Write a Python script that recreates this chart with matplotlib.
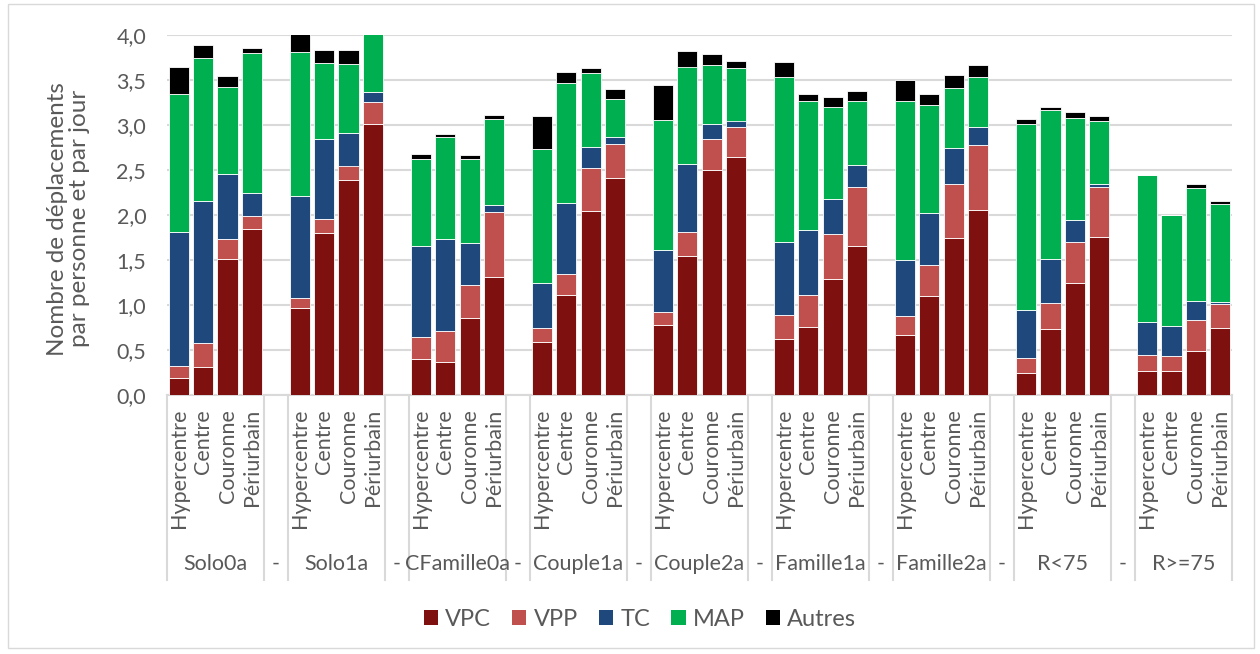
import matplotlib
matplotlib.use("Agg")
import matplotlib.pyplot as plt
from matplotlib.patches import Patch, Rectangle
from matplotlib.ticker import FuncFormatter
import numpy as np

plt.rcParams['font.family'] = ['Lato', 'DejaVu Sans']

groups = ["Solo0a", "Solo1a", "CFamille0a", "Couple1a", "Couple2a",
          "Famille1a", "Famille2a", "R<75", "R>=75"]
zones = ["Hypercentre", "Centre", "Couronne", "Périurbain"]
series_names = ["VPC", "VPP", "TC", "MAP", "Autres"]
colors = ["#7F1010", "#C0504D", "#1F497D", "#00B050", "#000000"]

# values per group, per zone (Hypercentre, Centre, Couronne, Périurbain)
VPC = [[0.19, 0.31, 1.51, 1.84], [0.97, 1.80, 2.39, 3.01], [0.40, 0.37, 0.86, 1.31],
       [0.59, 1.11, 2.04, 2.41], [0.78, 1.54, 2.50, 2.65], [0.62, 0.76, 1.29, 1.66],
       [0.67, 1.10, 1.74, 2.06], [0.24, 0.73, 1.25, 1.76], [0.27, 0.27, 0.49, 0.74]]
VPP = [[0.13, 0.27, 0.22, 0.15], [0.11, 0.16, 0.16, 0.25], [0.24, 0.34, 0.36, 0.72],
       [0.16, 0.24, 0.48, 0.38], [0.14, 0.27, 0.34, 0.33], [0.27, 0.35, 0.50, 0.65],
       [0.21, 0.35, 0.60, 0.72], [0.17, 0.29, 0.45, 0.55], [0.17, 0.16, 0.34, 0.27]]
TC = [[1.49, 1.58, 0.73, 0.25], [1.13, 0.88, 0.36, 0.11], [1.02, 1.02, 0.47, 0.08],
      [0.50, 0.78, 0.24, 0.08], [0.69, 0.76, 0.17, 0.07], [0.81, 0.72, 0.39, 0.25],
      [0.62, 0.57, 0.40, 0.20], [0.53, 0.49, 0.24, 0.04], [0.37, 0.34, 0.21, 0.02]]
MAP = [[1.53, 1.58, 0.96, 1.56], [1.60, 0.85, 0.77, 0.75], [0.96, 1.14, 0.93, 0.96],
       [1.48, 1.34, 0.82, 0.42], [1.45, 1.08, 0.66, 0.58], [1.83, 1.44, 1.02, 0.71],
       [1.77, 1.20, 0.67, 0.55], [2.07, 1.66, 1.14, 0.69], [1.64, 1.23, 1.26, 1.09]]
Autres = [[0.30, 0.15, 0.12, 0.06], [0.21, 0.14, 0.15, 0.05], [0.06, 0.03, 0.05, 0.04],
          [0.37, 0.12, 0.05, 0.11], [0.39, 0.17, 0.12, 0.08], [0.17, 0.07, 0.11, 0.11],
          [0.23, 0.12, 0.15, 0.14], [0.06, 0.03, 0.06, 0.06], [0.00, 0.00, 0.04, 0.04]]
yticks = [0.0, 0.5, 1.0, 1.5, 2.0, 2.5, 3.0, 3.5, 4.0]

W, H = 1260, 654
fig = plt.figure(figsize=(W / 100, H / 100), dpi=100)
ax = fig.add_axes([167 / W, 1 - 395 / H, (1232 - 167) / W, (395 - 35) / H])

gray = "#595959"
step = len(zones) + 1
positions = []
for g in range(len(groups)):
    for j in range(len(zones)):
        positions.append(g * step + j)
positions = np.array(positions)

all_series = [VPC, VPP, TC, MAP, Autres]
bottom = np.zeros(len(positions))
for name, data, col in zip(series_names, all_series, colors):
    vals = np.array(data).flatten()
    ax.bar(positions, vals, bottom=bottom, width=0.83, color=col,
           edgecolor="white", linewidth=0.6, label=name, zorder=3)
    bottom += vals

ncat = len(groups) * step - 1
ax.set_xlim(-0.5, ncat - 0.5)
ax.set_ylim(0, 4.0)
ax.set_yticks(yticks)
ax.yaxis.set_major_formatter(FuncFormatter(lambda v, p: f"{v:.1f}".replace(".", ",")))
ax.grid(axis="y", color="#D9D9D9", linewidth=1.5, zorder=0)
ax.set_axisbelow(True)
for s in ["left", "right", "top"]:
    ax.spines[s].set_visible(False)
ax.spines["bottom"].set_color("#D9D9D9")
ax.spines["bottom"].set_linewidth(1.5)
ax.tick_params(axis="y", length=0, labelsize=15.5, labelcolor=gray, pad=15)
ax.set_xticks(positions)
ax.set_xticklabels(zones * len(groups), rotation=90, fontsize=15.5, color=gray)
ax.tick_params(axis="x", length=0, pad=10)

ax.set_ylabel("Nombre de déplacements\npar personne et par jour", fontsize=17.5,
              color=gray, linespacing=1.05)
ax.yaxis.set_label_coords((90 - 167) / (1232 - 167), 0.49)

trans = ax.get_xaxis_transform()
line_bottom = (395 - 580) / 360
label_y = (395 - 564) / 360
for g, name in enumerate(groups):
    x0 = g * step - 0.5
    x1 = g * step + len(zones) - 0.5
    for xx in (x0, x1):
        ax.plot([xx, xx], [0, line_bottom], transform=trans, color="#D9D9D9",
                linewidth=1.5, clip_on=False)
    ax.text(g * step + 1.5, label_y, name, transform=trans, ha="center",
            va="center", fontsize=15.5, color=gray)
    if g < len(groups) - 1:
        ax.text(g * step + len(zones), label_y, "-", transform=trans,
                ha="center", va="center", fontsize=15.5, color=gray)

handles = [Patch(facecolor=c, edgecolor="none") for c in colors]
fig.legend(handles, series_names, loc="center", bbox_to_anchor=(640 / W, 1 - 619 / H),
           ncol=5, frameon=False, fontsize=17, labelcolor=gray,
           handlelength=0.6, handleheight=0.6, handletextpad=0.3, columnspacing=0.9)

fig.patches.append(Rectangle((8 / W, 6 / H), (W - 14) / W, (H - 10) / H,
                             transform=fig.transFigure, fill=False,
                             edgecolor="#D9D9D9", linewidth=1))

fig.savefig("out.png", dpi=100)
